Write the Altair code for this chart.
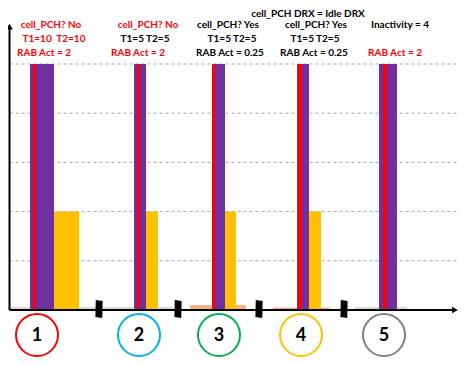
import altair as alt
import pandas as pd

# ---- data (time units along the broken time axis, levels in arbitrary power units) ----
seg_start = [4.5, 25, 49, 74, 98, 129, 141, 153, 185, 208, 220, 231, 268, 292, 304, 316, 349, 374, 392]
seg_end = [25, 49, 74, 91, 128, 141, 153, 168, 208, 220, 231, 241, 292, 304, 316, 325, 374, 392, 402]
seg_state = ["idle", "dch", "pch", "idle",
             "idle", "dch", "pch", "idle",
             "fach", "dch", "pch", "fach",
             "fach", "dch", "pch", "fach",
             "idle", "dch", "idle"]
seg_level = [0.06, 5, 2, 0.06,
             0.06, 5, 2, 0.06,
             0.1, 5, 2, 0.1,
             0.05, 5, 2, 0.05,
             0.06, 5, 0.06]

act_start = [28, 132, 207, 293, 378]
act_end = [31, 135, 210, 297, 382]
act_level = [5, 5, 5, 5, 5]

break_times = [94, 173, 254, 339]
grid_levels = [1, 2, 3, 4, 5]

scenario_labels = ["1", "2", "3", "4", "5"]
scenario_time = [32, 134, 214, 296, 379]
scenario_colors = ["#FF0000", "#00B0F0", "#00B050", "#FFC000", "#808080"]

note_text = ["cell_PCH? No", "T1=10\u00a0 T2=10", "RAB Act = 2",
             "cell_PCH? No", "T1=5\u00a0T2=5", "RAB Act = 2",
             "cell_PCH? Yes", "T1=5\u00a0T2=5", "RAB Act = 0.25",
             "cell_PCH? Yes", "T1=5\u00a0T2=5", "RAB Act = 0.25",
             "Inactivity = 4", "RAB Act = 2",
             "cell_PCH DRX = Idle DRX"]
note_color = ["#FF0000", "#FF0000", "#FF0000",
              "#FF0000", "#000000", "#FF0000",
              "#000000", "#000000", "#000000",
              "#000000", "#000000", "#000000",
              "#000000", "#FF0000",
              "#000000"]
note_time = [46, 49, 39,
             143, 140, 133,
             223, 227, 225,
             311, 310, 309,
             395, 390,
             303]
note_row = [1, 2, 3, 1, 2, 3, 1, 2, 3, 1, 2, 3, 1, 3, 0]

# ---- layout ----
W, H = 450, 349
row_py = [6, 17, 31, 45]
xs = alt.Scale(domain=[3, 453], range=[0, W])
ys = alt.Scale(domain=[-0.9553, 6.1382], range=[H, 0])
FONT = "Lato"
X0 = 4.5

segs = pd.DataFrame({"t0": seg_start, "t1": seg_end, "state": seg_state, "lvl": seg_level})
acts = pd.DataFrame({"t0": act_start, "t1": act_end, "state": ["act"] * 5, "lvl": act_level})
grid = pd.DataFrame({"lvl": grid_levels, "t0": [X0] * 5, "t1": [453] * 5})
breaks = pd.DataFrame({"t": break_times, "lvl": [0.02] * len(break_times)})
scen = pd.DataFrame({"t": scenario_time, "label": scenario_labels, "col": scenario_colors})
notes = pd.DataFrame({"t": note_time, "txt": note_text, "col": note_color,
                      "py": [row_py[r] for r in note_row]})

state_scale = alt.Scale(domain=["idle", "fach", "dch", "pch", "act"],
                        range=["#D9D9D9", "#F4B183", "#7030A0", "#FFC000", "#FF0000"])

grid_layer = alt.Chart(grid).mark_rule(color="#A6A6A6", strokeWidth=1, strokeDash=[3, 3]).encode(
    x=alt.X("t0:Q", scale=xs, axis=None), x2="t1:Q",
    y=alt.Y("lvl:Q", scale=ys, axis=None))

bar_layer = alt.Chart(segs).mark_rect().encode(
    x=alt.X("t0:Q", scale=xs, axis=None), x2="t1:Q",
    y=alt.Y("lvl:Q", scale=ys, axis=None), y2=alt.Y2(datum=0),
    color=alt.Color("state:N", scale=state_scale, legend=None))

act_layer = alt.Chart(acts).mark_rect().encode(
    x=alt.X("t0:Q", scale=xs, axis=None), x2="t1:Q",
    y=alt.Y("lvl:Q", scale=ys, axis=None), y2=alt.Y2(datum=0),
    color=alt.Color("state:N", scale=state_scale, legend=None))

xaxis = alt.Chart(pd.DataFrame({"t0": [X0], "t1": [448], "lvl": [0]})).mark_rule(
    color="#000000", strokeWidth=2).encode(
    x=alt.X("t0:Q", scale=xs, axis=None), x2="t1:Q", y=alt.Y("lvl:Q", scale=ys, axis=None))
yaxis = alt.Chart(pd.DataFrame({"t": [X0], "l0": [0], "l1": [5.72]})).mark_rule(
    color="#000000", strokeWidth=2).encode(
    x=alt.X("t:Q", scale=xs, axis=None), y=alt.Y("l0:Q", scale=ys, axis=None), y2="l1:Q")
xarrow = alt.Chart(pd.DataFrame({"t": [450], "lvl": [0]})).mark_point(
    shape="triangle-right", filled=True, color="#000000", opacity=1, size=45).encode(
    x=alt.X("t:Q", scale=xs, axis=None), y=alt.Y("lvl:Q", scale=ys, axis=None))
yarrow = alt.Chart(pd.DataFrame({"t": [X0], "lvl": [5.76]})).mark_point(
    shape="triangle-up", filled=True, color="#000000", opacity=1, size=45).encode(
    x=alt.X("t:Q", scale=xs, axis=None), y=alt.Y("lvl:Q", scale=ys, axis=None))

break_layer = alt.Chart(breaks).mark_point(
    shape="M -0.36 -1 L 0.4 -0.9 L 0.36 1 L -0.4 0.9 Z",
    filled=True, color="#000000", opacity=1, size=324, strokeWidth=0).encode(
    x=alt.X("t:Q", scale=xs, axis=None), y=alt.Y("lvl:Q", scale=ys, axis=None))

circle_layer = alt.Chart(scen).mark_point(
    shape="circle", filled=False, opacity=1, size=1764, strokeWidth=2).encode(
    x=alt.X("t:Q", scale=xs, axis=None), y=alt.value(327),
    stroke=alt.Color("col:N", scale=None))

digit_layer = alt.Chart(scen).mark_text(
    font=FONT, fontWeight="bold", fontSize=18, baseline="middle", align="center",
    color="#000000", dy=1).encode(
    x=alt.X("t:Q", scale=xs, axis=None), y=alt.value(327), text="label:N")

note_layer = alt.Chart(notes).mark_text(
    font=FONT, fontWeight="bold", fontSize=10, baseline="middle", align="center").encode(
    x=alt.X("t:Q", scale=xs, axis=None), y=alt.Y("py:Q", scale=None),
    text="txt:N", color=alt.Color("col:N", scale=None))

chart = alt.layer(grid_layer, bar_layer, act_layer, xaxis, yaxis, xarrow, yarrow,
                  break_layer, circle_layer, digit_layer, note_layer).properties(
    width=W, height=H, padding=0, autosize=alt.AutoSizeParams(type="none"),
    background="#FFFFFF").configure_view(strokeWidth=0)

chart.save("out.html", embed_options={"renderer": "svg", "actions": False})
